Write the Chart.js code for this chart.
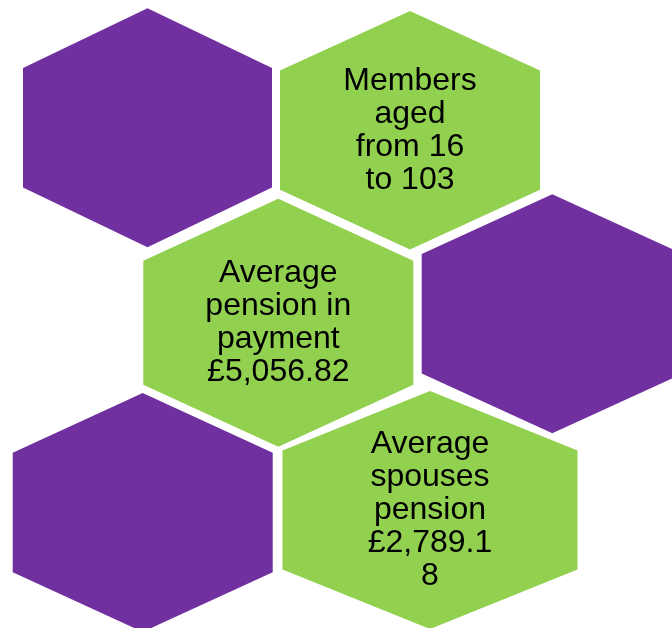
<!DOCTYPE html>
<html>
<head>
<meta charset="utf-8">
<script src="https://cdn.jsdelivr.net/npm/chart.js@4/dist/chart.umd.min.js"></script>
<style>
  html, body { margin: 0; padding: 0; background: #fff; }
  #wrap { width: 672px; height: 628px; }
</style>
</head>
<body>
<div id="wrap"><canvas id="hexChart" width="672" height="628"></canvas></div>
<script>
// hexagon centres (in the page's own units) and the text inside each one
const hexX = [147.5, 410, 278.3, 552.3, 142.7, 430];
const hexY = [127.8, 130.2, 322.8, 313.8, 512.5, 510];
const hexLabels = [
  [],
  ["Members", "aged", "from 16", "to 103"],
  ["Average", "pension in", "payment", "£5,056.82"],
  [],
  [],
  ["Average", "spouses", "pension", "£2,789.1", "8"],
];

// half width / half height of each hexagon
const halfW = [124.5, 130, 135, 130.6, 130, 147.5];
const halfH = [119.5, 119.2, 124, 119.5, 119.4, 119];
const colors = ["#7030A0", "#92D050", "#92D050", "#7030A0", "#7030A0", "#92D050"];

function hexPoints(i) {
  const cx = hexX[i], cy = hexY[i], w = halfW[i], h = halfH[i];
  return [
    { x: cx, y: cy - h },
    { x: cx + w, y: cy - h / 2 },
    { x: cx + w, y: cy + h / 2 },
    { x: cx, y: cy + h },
    { x: cx - w, y: cy + h / 2 },
    { x: cx - w, y: cy - h / 2 },
    { x: cx, y: cy - h },
  ];
}

const datasets = hexX.map((_, i) => ({
  data: hexPoints(i),
  showLine: true,
  fill: "shape",
  backgroundColor: colors[i],
  borderColor: colors[i],
  borderWidth: 0,
  pointRadius: 0,
  tension: 0,
}));

const hexText = {
  id: "hexText",
  afterDatasetsDraw(chart) {
    const { ctx, scales: { x, y } } = chart;
    ctx.save();
    ctx.fillStyle = "#000";
    ctx.font = '32px "Liberation Sans", Arial, sans-serif';
    ctx.textAlign = "center";
    ctx.textBaseline = "middle";
    const lineH = 33;
    hexLabels.forEach((lines, i) => {
      const px = x.getPixelForValue(hexX[i]);
      const py = y.getPixelForValue(hexY[i]);
      lines.forEach((line, j) => {
        ctx.fillText(line, px, py + (j - (lines.length - 1) / 2) * lineH);
      });
    });
    ctx.restore();
  },
};

new Chart(document.getElementById("hexChart"), {
  type: "scatter",
  data: { datasets },
  options: {
    responsive: false,
    animation: false,
    layout: { padding: 0 },
    plugins: { legend: { display: false }, tooltip: { enabled: false } },
    scales: {
      x: { type: "linear", min: 0, max: 672, display: false },
      y: { type: "linear", min: 0, max: 628, reverse: true, display: false },
    },
  },
  plugins: [hexText],
});
</script>
</body>
</html>
